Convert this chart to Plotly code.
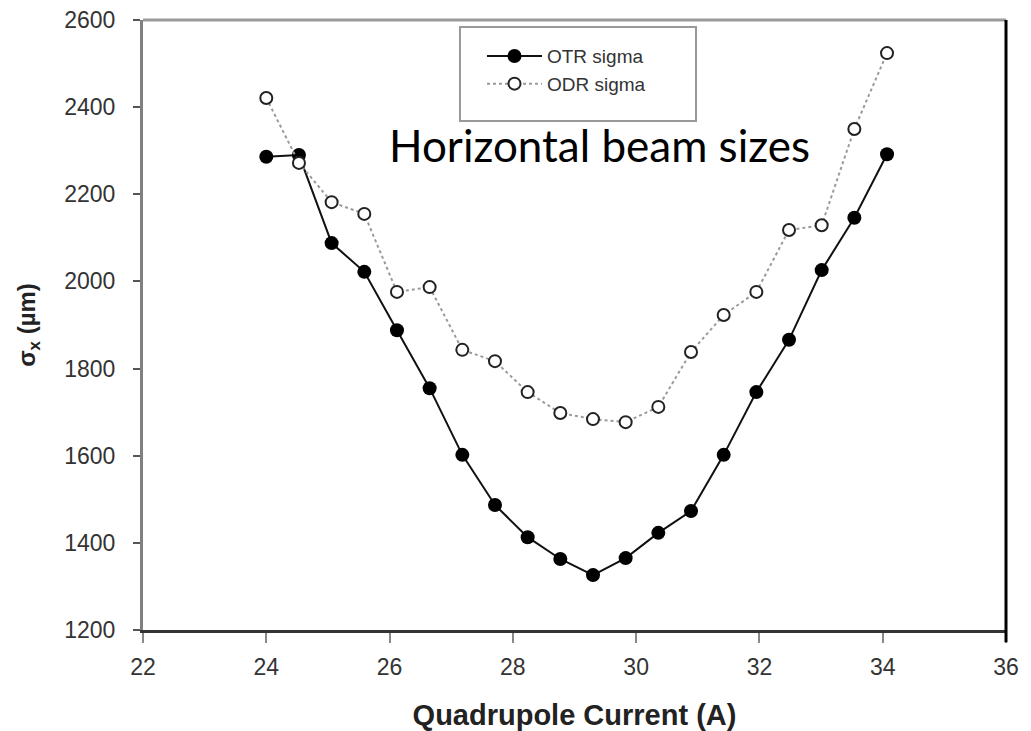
import plotly.graph_objects as go

# Quadrupole current (A) for each scan step
current = [24.0, 24.53, 25.06, 25.59, 26.12, 26.65, 27.18, 27.71, 28.24, 28.77,
           29.30, 29.83, 30.36, 30.89, 31.42, 31.95, 32.48, 33.01, 33.54, 34.07]

# Horizontal beam size (µm) from OTR and ODR measurements
otr_sigma = [2286, 2290, 2088, 2022, 1888, 1755, 1602, 1487, 1413, 1363,
             1326, 1365, 1423, 1473, 1602, 1746, 1866, 2026, 2146, 2292]
odr_sigma = [2421, 2272, 2182, 2155, 1976, 1987, 1843, 1817, 1746, 1698,
             1684, 1677, 1712, 1838, 1923, 1976, 2118, 2129, 2350, 2524]

x_ticks = [22, 24, 26, 28, 30, 32, 34, 36]
y_ticks = [1200, 1400, 1600, 1800, 2000, 2200, 2400, 2600]

ARIAL = "Liberation Sans, Arial, sans-serif"

fig = go.Figure()

fig.add_trace(go.Scatter(
    x=current, y=otr_sigma, name="OTR sigma", mode="lines+markers",
    line=dict(color="#111111", width=2),
    marker=dict(symbol="circle", size=14, color="#000000",
                line=dict(color="#000000", width=0)),
))

fig.add_trace(go.Scatter(
    x=current, y=odr_sigma, name="ODR sigma", mode="lines+markers",
    line=dict(color="#9a9a9a", width=2, dash="dot"),
    marker=dict(symbol="circle", size=12, color="#ffffff",
                line=dict(color="#222222", width=2)),
))

fig.update_layout(
    width=1031, height=731,
    margin=dict(l=143, r=25, t=20, b=101, autoexpand=False),
    paper_bgcolor="#ffffff", plot_bgcolor="#ffffff",
    font=dict(family=ARIAL, color="#333333", size=22),
    showlegend=True,
    legend=dict(
        x=0.3928, y=0.972, xanchor="left", yanchor="top",
        bgcolor="rgba(0,0,0,0)", borderwidth=0,
        font=dict(family=ARIAL, size=19, color="#333333"),
        itemwidth=55, tracegroupgap=0,
    ),
    xaxis=dict(
        range=[22, 36], tickvals=x_ticks, ticktext=[str(v) for v in x_ticks],
        automargin=False,
        showgrid=False, zeroline=False,
        showline=True, linecolor="#333333", linewidth=3,
        ticks="outside", ticklen=10, tickwidth=2, tickcolor="#888888",
        tickfont=dict(family=ARIAL, size=23, color="#333333"),
        ticklabelstandoff=4,
        title=dict(text="<b>Quadrupole Current (A)</b>",
                   font=dict(family=ARIAL, size=29, color="#222222"),
                   standoff=28),
    ),
    yaxis=dict(
        range=[1200, 2600], tickvals=y_ticks, ticktext=[str(v) for v in y_ticks],
        automargin=False,
        showgrid=False, zeroline=False,
        showline=True, linecolor="#808080", linewidth=3,
        ticks="outside", ticklen=7, tickwidth=2, tickcolor="#555555",
        tickfont=dict(family=ARIAL, size=23, color="#333333"),
        ticklabelstandoff=13,
        title=dict(text="<b>σ<sub>x</sub> (µm)</b>",
                   font=dict(family=ARIAL, size=24, color="#222222"),
                   standoff=22),
    ),
    annotations=[dict(
        text="Horizontal beam sizes", xref="paper", yref="paper",
        x=0.5295, y=0.795, xanchor="center", yanchor="middle",
        showarrow=False,
        font=dict(family="Lato, Noto Sans, sans-serif", size=44, color="#000000"),
    )],
    shapes=[
        # legend frame
        dict(type="rect", xref="paper", yref="paper",
             x0=0.3673, x1=0.6408, y0=0.8344, y1=0.9885,
             line=dict(color="#999999", width=2), fillcolor="#ffffff",
             layer="below"),
        # top frame edge
        dict(type="line", xref="paper", yref="paper", x0=0, x1=1, y0=1, y1=1,
             line=dict(color="#999999", width=3), layer="above"),
        # right frame edge, running down to the last x tick
        dict(type="line", xref="paper", yref="paper", x0=1, x1=1, y0=-0.02, y1=1,
             line=dict(color="#000000", width=3), layer="above"),
    ],
)

fig.write_html("out.html")
